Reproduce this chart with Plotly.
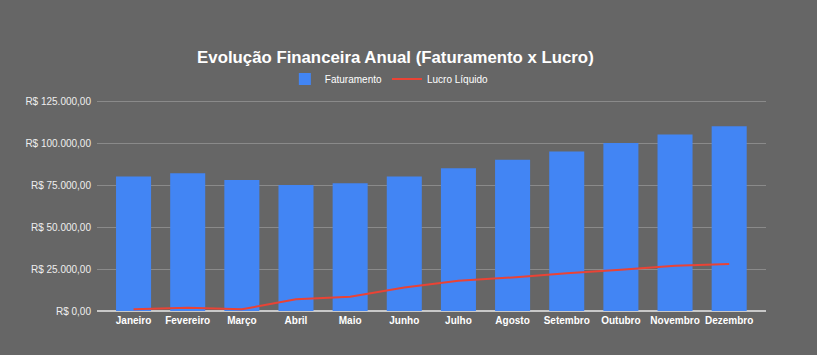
import plotly.graph_objects as go

meses = ["Janeiro", "Fevereiro", "Março", "Abril", "Maio", "Junho",
         "Julho", "Agosto", "Setembro", "Outubro", "Novembro", "Dezembro"]
faturamento = [80000, 82000, 78000, 75000, 76000, 80000,
               85000, 90000, 95000, 100000, 105000, 110000]
lucro = [1000, 2000, 1000, 7000, 8500, 14000,
         18000, 20000, 22500, 24500, 27000, 28000]
y_ticks = [0, 25000, 50000, 75000, 100000, 125000]
y_tick_labels = ["R$ 0,00", "R$ 25.000,00", "R$ 50.000,00", "R$ 75.000,00",
                 "R$ 100.000,00", "R$ 125.000,00"]

W, H = 817, 355
T, B = 40, 44
PH = H - T - B  # paper height in px
BG = "#666666"

fig = go.Figure()
fig.add_trace(go.Bar(x=meses, y=faturamento, name="Faturamento",
                     marker=dict(color="#4285F4", line=dict(width=0))))
fig.add_trace(go.Scatter(x=meses, y=lucro, name="Lucro Líquido", mode="lines",
                         line=dict(color="#EA4335", width=2)))

fig.update_layout(
    width=W, height=H,
    paper_bgcolor=BG, plot_bgcolor=BG,
    margin=dict(l=97, r=51, t=T, b=B),
    font=dict(family="Liberation Sans, Arial, sans-serif", color="#ffffff", size=10),
    title=dict(text="<b>Evolução Financeira Anual (Faturamento x Lucro)</b>",
               x=0.484, xanchor="center", y=1 - 57/H, yanchor="middle",
               font=dict(size=16.8, color="#ffffff")),
    legend=dict(orientation="h", xref="paper", yref="paper",
                x=0.437, xanchor="center", y=(H - B - 79) / PH, yanchor="middle",
                font=dict(size=10, color="#ffffff"),
                bgcolor="rgba(0,0,0,0)", itemwidth=30, traceorder="normal"),
    bargap=0.353,
    showlegend=True,
)
fig.update_xaxes(range=[-0.675, 11.68], showgrid=False, showline=False, zeroline=False,
                 ticks="", tickfont=dict(size=10, color="#ffffff",
                                         family="Liberation Sans, Arial, sans-serif"),
                 ticklabelstandoff=2,
                 tickprefix="<b>", ticksuffix="</b>")
fig.update_yaxes(range=[0, 125600], domain=[0, (H - B - 100) / PH],
                 tickvals=y_ticks, ticktext=y_tick_labels,
                 showgrid=True, gridcolor="#8a8a8a", gridwidth=1,
                 zeroline=True, zerolinecolor="#c8c8c8", zerolinewidth=1.5,
                 showline=False, ticks="", ticklabelstandoff=5,
                 tickfont=dict(size=10, color="#eeeeee"))

fig.write_html("out.html", config={"displayModeBar": False},
               post_script="document.body.style.margin='0';document.body.style.padding='0';")
